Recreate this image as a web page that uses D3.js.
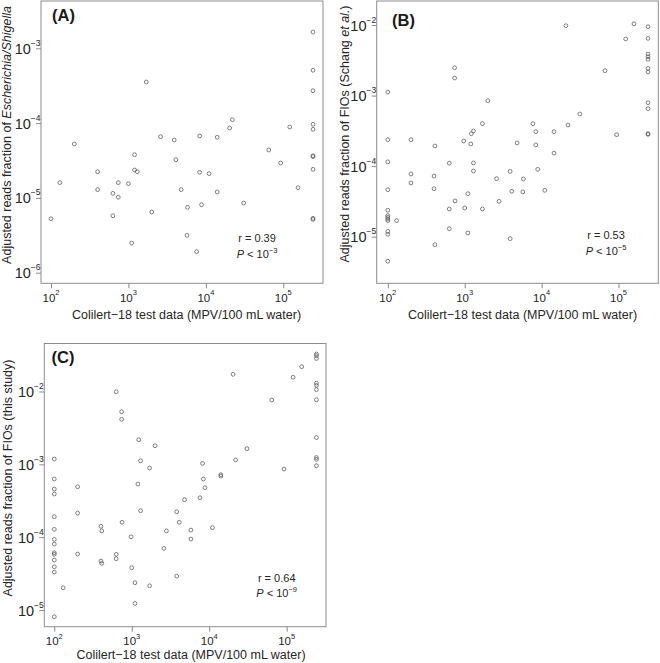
<!DOCTYPE html>
<html><head><meta charset="utf-8">
<script src="https://cdn.jsdelivr.net/npm/d3@7"></script>
<style>
body{margin:0;background:#fff}
svg{display:block;font-family:"Liberation Sans",Arial,Helvetica,sans-serif}
</style>
</head><body>
<svg id="chart" width="660" height="663"></svg>
<script>
// ---------- data ----------
const xTickValues = [1e2, 1e3, 1e4, 1e5];
const yTicksA = [1e-3, 1e-4, 1e-5, 1e-6];
const yTicksB = [1e-2, 1e-3, 1e-4, 1e-5];
const yTicksC = [1e-2, 1e-3, 1e-4, 1e-5];
const panelTitles = ["(A)", "(B)", "(C)"];
const corrR = ["0.39", "0.53", "0.64"];
const pExponents = [-3, -5, -9];
const xAxisTitle = "Colilert\u221218 test data (MPV/100 mL water)";

// Panel A: Escherichia/Shigella
const xA = [100,130,200,400,400,630,630,740,740,1000,1100,1200,1200,1300,1700,2000,2600,3900,4100,4800,
  5700,5800,7600,8300,8300,8800,11000,14000,14000,20300,22000,30800,64900,92500,121000,155000,
  241960,241960,241960,241960,241960,241960,241960,241960,241960,241960];
const yA = [5.27e-6,1.60e-5,5.26e-5,2.24e-5,1.29e-5,1.15e-5,5.78e-6,1.60e-5,1.02e-5,1.55e-5,2.49e-6,3.78e-5,2.36e-5,2.24e-5,3.54e-4,6.49e-6,
  6.58e-5,5.94e-5,3.24e-5,1.29e-5,3.16e-6,7.48e-6,1.91e-6,6.73e-5,2.20e-5,8.11e-6,2.11e-5,6.46e-5,1.20e-5,8.59e-5,1.11e-4,8.55e-6,
  4.37e-5,2.93e-5,8.87e-5,1.37e-5,
  1.65e-3,5.08e-4,2.71e-4,9.64e-5,8.26e-5,3.66e-5,3.56e-5,2.41e-5,5.33e-6,5.16e-6];

// Panel B: FIOs (Schang et al.)
const xB = [100,100,100,100,100,100,100,100,100,100,100,100,
  130,200,200,200,400,400,410,410,630,630,630,740,740,750,970,1000,1100,1100,1200,1220,1300,1300,1300,
  1700,1700,2000,2600,2800,3900,3900,4100,4800,5700,5800,7700,8400,8400,8900,11000,14500,14500,
  20700,22000,31500,66700,94600,124000,159000,
  241960,241960,241960,241960,241960,241960,241960,241960,241960,241960,241960];
const yB = [1.12e-3,2.37e-4,1.15e-4,4.63e-5,2.37e-5,1.99e-5,1.88e-5,1.78e-5,1.69e-5,1.19e-5,1.08e-5,4.49e-6,
  1.69e-5,2.37e-4,7.74e-5,5.77e-5,7.24e-5,4.79e-5,1.93e-4,7.71e-6,1.10e-4,2.47e-5,1.30e-5,2.48e-3,1.77e-3,3.21e-5,
  2.27e-4,2.55e-5,4.07e-5,1.13e-5,2.06e-4,2.88e-4,3.15e-4,1.11e-4,8.53e-5,
  4.00e-4,2.47e-5,8.45e-4,6.64e-5,3.17e-5,8.43e-5,9.38e-6,4.40e-5,2.13e-4,4.31e-5,6.58e-5,4.00e-4,3.08e-4,2.00e-4,
  9.02e-5,4.54e-5,3.08e-4,1.53e-4,9.77e-3,3.83e-4,5.48e-4,2.25e-3,2.79e-4,6.34e-3,1.04e-2,
  9.46e-3,6.47e-3,3.88e-3,3.56e-3,3.27e-3,2.43e-3,2.16e-3,7.93e-4,6.52e-4,2.88e-4,2.82e-4];

// Panel C: FIOs (this study)
const xC = [100,100,100,100,100,100,100,100,100,100,100,100,100,100,
  130,200,200,200,400,400,410,410,630,630,630,740,740,750,980,1000,1100,1100,1200,1230,1300,1300,
  1700,1700,2000,2600,2800,3800,3800,4100,4800,5800,5800,7600,8200,8400,8800,11000,14100,14100,
  20300,21900,30700,64000,92300,121000,156000,
  241960,241960,241960,241960,241960,241960,241960,241960,241960,241960,241960];
const yC = [1.18e-3,6.28e-4,4.58e-4,3.91e-4,1.91e-4,1.28e-4,9.33e-5,8.04e-5,6.11e-5,5.81e-5,4.85e-5,3.92e-5,3.31e-5,8.07e-6,
  2.02e-5,4.92e-4,2.14e-4,5.86e-5,1.41e-4,4.70e-5,1.22e-4,4.37e-5,9.93e-3,5.81e-5,5.05e-5,5.28e-3,4.15e-3,1.60e-4,
  1.01e-4,3.80e-5,2.37e-5,1.23e-5,5.36e-4,2.18e-3,1.12e-3,2.31e-4,
  8.89e-4,2.15e-5,1.80e-3,7.01e-5,1.22e-4,2.23e-4,2.92e-5,1.60e-4,3.27e-4,1.25e-4,9.42e-5,3.48e-4,1.03e-3,6.28e-4,4.78e-4,
  1.35e-4,7.21e-4,6.90e-4,1.72e-2,1.15e-3,1.64e-3,7.64e-3,8.61e-4,1.57e-2,2.19e-2,
  3.27e-2,3.10e-2,2.84e-2,1.30e-2,1.21e-2,1.06e-2,7.71e-3,2.33e-3,1.24e-3,1.17e-3,9.57e-4];

// ---------- layout (pixels) ----------
const layout = [
  {xs:xA, ys:yA, yTicks:yTicksA, box:[41,1,323,283.3], xr:[51,283.3], yr:[48.3,272.7],
   yLab:[["Adjusted reads fraction of ",false],["Escherichia/Shigella",true]], yLabX:10.7, yLabY:135,
   xLabX:186.5, xLabY:319, titleX:52, titleY:20.5, annX:257, annY:242},
  {xs:xB, ys:yB, yTicks:yTicksB, box:[376.7,1,658.3,283.3], xr:[387.8,618.5], yr:[25,236.7],
   yLab:[["Adjusted reads fraction of FIOs (Schang ",false],["et al.",true],[")",false]], yLabX:349, yLabY:134,
   xLabX:522.5, xLabY:319, titleX:392, titleY:26, annX:606, annY:239},
  {xs:xC, ys:yC, yTicks:yTicksC, box:[44.3,343.5,326,626.7], xr:[54.3,286.7], yr:[391.5,610],
   yLab:[["Adjusted reads fraction of FIOs (this study)",false]], yLabX:12.4, yLabY:478,
   xLabX:191, xLabY:659, titleX:51.5, titleY:363, annX:276.7, annY:581.7}
];

const svg = d3.select("#chart");
const textCol = "#262626";
const axisCol = "#8c8c8c";

function sup(e){ return e < 0 ? "\u2212" + (-e) : String(e); }

layout.forEach((p, i) => {
  const g = svg.append("g");
  const x = d3.scaleLog().domain([xTickValues[0], xTickValues[3]]).range(p.xr);
  const y = d3.scaleLog().domain([p.yTicks[0], p.yTicks[3]]).range(p.yr);
  const [bx0, by0, bx1, by1] = p.box;

  // box
  g.append("rect").attr("x", bx0).attr("y", by0).attr("width", bx1 - bx0).attr("height", by1 - by0)
    .attr("fill", "none").attr("stroke", axisCol).attr("stroke-width", 1);

  // x axis ticks
  const xAxis = d3.axisBottom(x).tickValues(xTickValues).tickSize(5).tickFormat("");
  const xg = g.append("g").attr("transform", `translate(0,${by1})`).call(xAxis);
  xg.select(".domain").remove();
  xg.selectAll(".tick line").attr("stroke", axisCol);
  xTickValues.forEach(v => {
    const t = g.append("text").attr("x", x(v)).attr("y", by1 + 18.5)
      .attr("text-anchor", "middle").attr("fill", textCol);
    t.append("tspan").attr("font-size", 11.5).text("10");
    t.append("tspan").attr("font-size", 7.5).attr("dy", -6.5).text(sup(Math.round(Math.log10(v))));
  });

  // y axis ticks
  const yAxis = d3.axisLeft(y).tickValues(p.yTicks).tickSize(5).tickFormat("");
  const yg = g.append("g").attr("transform", `translate(${bx0},0)`).call(yAxis);
  yg.select(".domain").remove();
  yg.selectAll(".tick line").attr("stroke", axisCol);
  p.yTicks.forEach(v => {
    const t = g.append("text").attr("x", bx0 - 0.5).attr("y", y(v) + 5.5)
      .attr("text-anchor", "end").attr("fill", textCol);
    t.append("tspan").attr("font-size", 14.5).text("10");
    t.append("tspan").attr("font-size", 8.5).attr("dy", -8).text(sup(Math.round(Math.log10(v))));
  });

  // points
  g.append("g").selectAll("circle").data(p.xs.map((xv, k) => [xv, p.ys[k]])).join("circle")
    .attr("cx", d => x(d[0])).attr("cy", d => y(d[1])).attr("r", 1.9)
    .attr("fill", "none").attr("stroke", "#555").attr("stroke-width", 0.75);

  // panel title
  g.append("text").attr("x", p.titleX).attr("y", p.titleY).attr("font-size", 16.5)
    .attr("font-weight", "bold").attr("fill", "#1a1a1a").text(panelTitles[i]);

  // x axis title
  g.append("text").attr("x", p.xLabX).attr("y", p.xLabY).attr("text-anchor", "middle")
    .attr("font-size", 12.5).attr("fill", textCol).text(xAxisTitle);

  // y axis title
  const yl = g.append("text").attr("transform", `translate(${p.yLabX},${p.yLabY}) rotate(-90)`)
    .attr("text-anchor", "middle").attr("font-size", 12.5).attr("fill", textCol);
  p.yLab.forEach(([s, it]) => yl.append("tspan").attr("font-style", it ? "italic" : "normal").text(s));

  // annotation
  g.append("text").attr("x", p.annX).attr("y", p.annY).attr("text-anchor", "middle")
    .attr("font-size", 11).attr("fill", textCol).text("r = " + corrR[i]);
  const pt = g.append("text").attr("x", p.annX).attr("y", p.annY + 15.5).attr("text-anchor", "middle")
    .attr("font-size", 11).attr("fill", textCol);
  pt.append("tspan").attr("font-style", "italic").text("P");
  pt.append("tspan").text(" < 10");
  pt.append("tspan").attr("font-size", 7.5).attr("dy", -5).text(sup(pExponents[i]));
});
</script>
</body></html>
